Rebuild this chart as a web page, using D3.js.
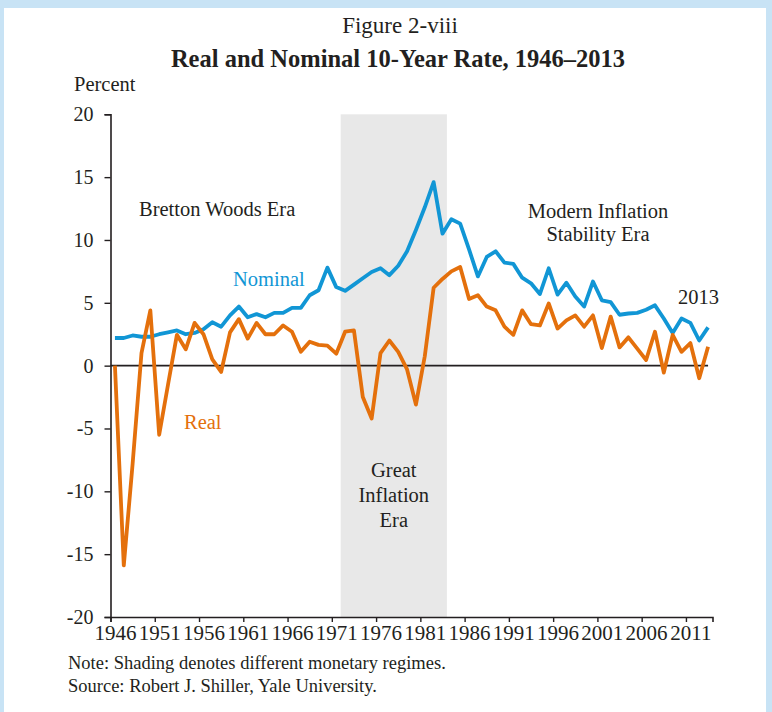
<!DOCTYPE html>
<html>
<head>
<meta charset="utf-8">
<script src="https://cdn.jsdelivr.net/npm/d3@7"></script>
<style>
  html, body { margin: 0; padding: 0; background: #ffffff; }
  svg { display: block; }
  text { font-family: "Liberation Serif", "Times New Roman", Times, serif; fill: #231f20; }
</style>
</head>
<body>
<svg id="chart" width="772" height="712"></svg>
<script>
// Nominal 10-year Treasury rate (January of each year), percent, 1946–2013
const nominal = [
  2.2, 2.2, 2.4, 2.3, 2.3, 2.5, 2.65, 2.8, 2.5, 2.6,
  2.9, 3.45, 3.1, 4.0, 4.7, 3.85, 4.1, 3.85, 4.2, 4.2,
  4.6, 4.6, 5.6, 6.0, 7.8, 6.25, 5.95, 6.45, 6.95, 7.45,
  7.75, 7.2, 7.95, 9.1, 10.8, 12.6, 14.6, 10.5, 11.65, 11.3,
  9.25, 7.1, 8.65, 9.1, 8.2, 8.1, 7.0, 6.55, 5.7, 7.75,
  5.65, 6.6, 5.5, 4.7, 6.7, 5.2, 5.05, 4.05, 4.15, 4.2,
  4.45, 4.8, 3.75, 2.6, 3.75, 3.4, 2.0, 3.05
];

// Real 10-year rate (nominal less trailing inflation), percent, 1946–2013
const real = [
  0.0, -15.9, -7.8, 1.0, 4.4, -5.5, -1.5, 2.45, 1.3, 3.4,
  2.5, 0.5, -0.5, 2.65, 3.7, 2.15, 3.4, 2.5, 2.5, 3.2,
  2.7, 1.1, 1.9, 1.65, 1.6, 0.95, 2.7, 2.8, -2.5, -4.2,
  1.0, 2.0, 1.1, -0.3, -3.1, 0.75, 6.2, 6.9, 7.5, 7.85,
  5.3, 5.6, 4.7, 4.4, 3.1, 2.45, 4.4, 3.3, 3.2, 4.95,
  2.95, 3.6, 4.0, 3.1, 4.0, 1.4, 3.9, 1.45, 2.25, 1.35,
  0.45, 2.7, -0.55, 2.45, 1.1, 1.8, -1.0, 1.5
];

const firstYear = 1946;
const years = nominal.map((_, i) => firstYear + i);

// Axis ticks
const xTickYears = [1946, 1951, 1956, 1961, 1966, 1971, 1976, 1981, 1986, 1991, 1996, 2001, 2006, 2011];
const yTickValues = [-20, -15, -10, -5, 0, 5, 10, 15, 20];

// Shaded monetary regime (first and last year covered)
const shadedEra = { from: 1972, to: 1983 };

const colors = {
  frame: "#c8e3f5",
  nominal: "#1196d5",
  real: "#e4700c",
  shade: "#e8e8e8",
  axis: "#231f20"
};

const svg = d3.select("#chart");

// page frame
svg.append("rect").attr("x", 0).attr("y", 0).attr("width", 772).attr("height", 712).attr("fill", colors.frame);
svg.append("rect").attr("x", 4).attr("y", 8).attr("width", 762).attr("height", 704).attr("fill", "#ffffff");

// scales: each year occupies one slot; points sit in the middle of the slot
const x = d3.scaleLinear().domain([firstYear, firstYear + years.length]).range([110.5, 712.5]);
const xc = yr => x(yr + 0.5);
const y = d3.scaleLinear().domain([-20, 20]).range([617, 114.3]);

// shading
svg.append("rect")
  .attr("x", x(shadedEra.from))
  .attr("y", y(20))
  .attr("width", x(shadedEra.to + 1) - x(shadedEra.from))
  .attr("height", y(-20) - y(20))
  .attr("fill", colors.shade);

// zero line
svg.append("line")
  .attr("x1", x(firstYear)).attr("x2", xc(years[years.length - 1]))
  .attr("y1", y(0)).attr("y2", y(0))
  .attr("stroke", colors.axis).attr("stroke-width", 1.6);

// y axis
const yAxis = svg.append("g")
  .attr("transform", `translate(${x(firstYear)},0)`)
  .call(d3.axisLeft(y).tickValues(yTickValues).tickSize(6).tickPadding(11).tickFormat(d => String(d)));
yAxis.select(".domain").attr("stroke", colors.axis).attr("stroke-width", 1.6);
yAxis.selectAll(".tick line").attr("stroke", colors.axis).attr("stroke-width", 1.4);
yAxis.selectAll(".tick text").attr("font-size", 20).attr("font-family", null).attr("fill", colors.axis);

// x axis
const xAxis = svg.append("g")
  .attr("transform", `translate(0,${y(-20)})`)
  .call(d3.axisBottom(x).tickValues(xTickYears).tickSize(5).tickPadding(3).tickFormat(d3.format("d")));
xAxis.select(".domain").attr("stroke", colors.axis).attr("stroke-width", 1.6);
xAxis.selectAll(".tick line").attr("stroke", colors.axis).attr("stroke-width", 1.4);
xAxis.selectAll(".tick text")
  .attr("font-size", 21).attr("font-family", null).attr("fill", colors.axis)
  .attr("dx", (xc(firstYear) - x(firstYear)));

// series lines
const line = d3.line()
  .x((d, i) => xc(years[i]))
  .y(d => y(d));

svg.append("path").datum(nominal)
  .attr("d", line).attr("fill", "none")
  .attr("stroke", colors.nominal).attr("stroke-width", 3.8)
  .attr("stroke-linejoin", "round");

svg.append("path").datum(real)
  .attr("d", line).attr("fill", "none")
  .attr("stroke", colors.real).attr("stroke-width", 3.8)
  .attr("stroke-linejoin", "round");

// titles
svg.append("text").attr("x", 400).attr("y", 33).attr("text-anchor", "middle")
  .attr("font-size", 23).text("Figure 2-viii");
svg.append("text").attr("x", 398).attr("y", 66.5).attr("text-anchor", "middle")
  .attr("font-size", 24.5).attr("font-weight", "bold").text("Real and Nominal 10-Year Rate, 1946–2013");
svg.append("text").attr("x", 74).attr("y", 91).attr("font-size", 20.5).text("Percent");

// era and series annotations
svg.append("text").attr("x", 139).attr("y", 216).attr("font-size", 20.5).text("Bretton Woods Era");
svg.append("text").attr("x", 233).attr("y", 285.5).attr("font-size", 20.5)
  .style("fill", colors.nominal).text("Nominal");
svg.append("text").attr("x", 184).attr("y", 429).attr("font-size", 20.5)
  .style("fill", colors.real).text("Real");

const midShade = (x(shadedEra.from) + x(shadedEra.to + 1)) / 2;
["Great", "Inflation", "Era"].forEach((t, i) => {
  svg.append("text").attr("x", midShade).attr("y", 477 + i * 25)
    .attr("text-anchor", "middle").attr("font-size", 20.5).text(t);
});
["Modern Inflation", "Stability Era"].forEach((t, i) => {
  svg.append("text").attr("x", 598).attr("y", 217.5 + i * 23.5)
    .attr("text-anchor", "middle").attr("font-size", 20.5).text(t);
});
svg.append("text").attr("x", 678).attr("y", 304).attr("font-size", 20.5).text("2013");

// notes
svg.append("text").attr("x", 68).attr("y", 669).attr("font-size", 18.5)
  .text("Note: Shading denotes different monetary regimes.");
svg.append("text").attr("x", 68).attr("y", 692).attr("font-size", 18.5)
  .text("Source: Robert J. Shiller, Yale University.");
</script>
</body>
</html>
